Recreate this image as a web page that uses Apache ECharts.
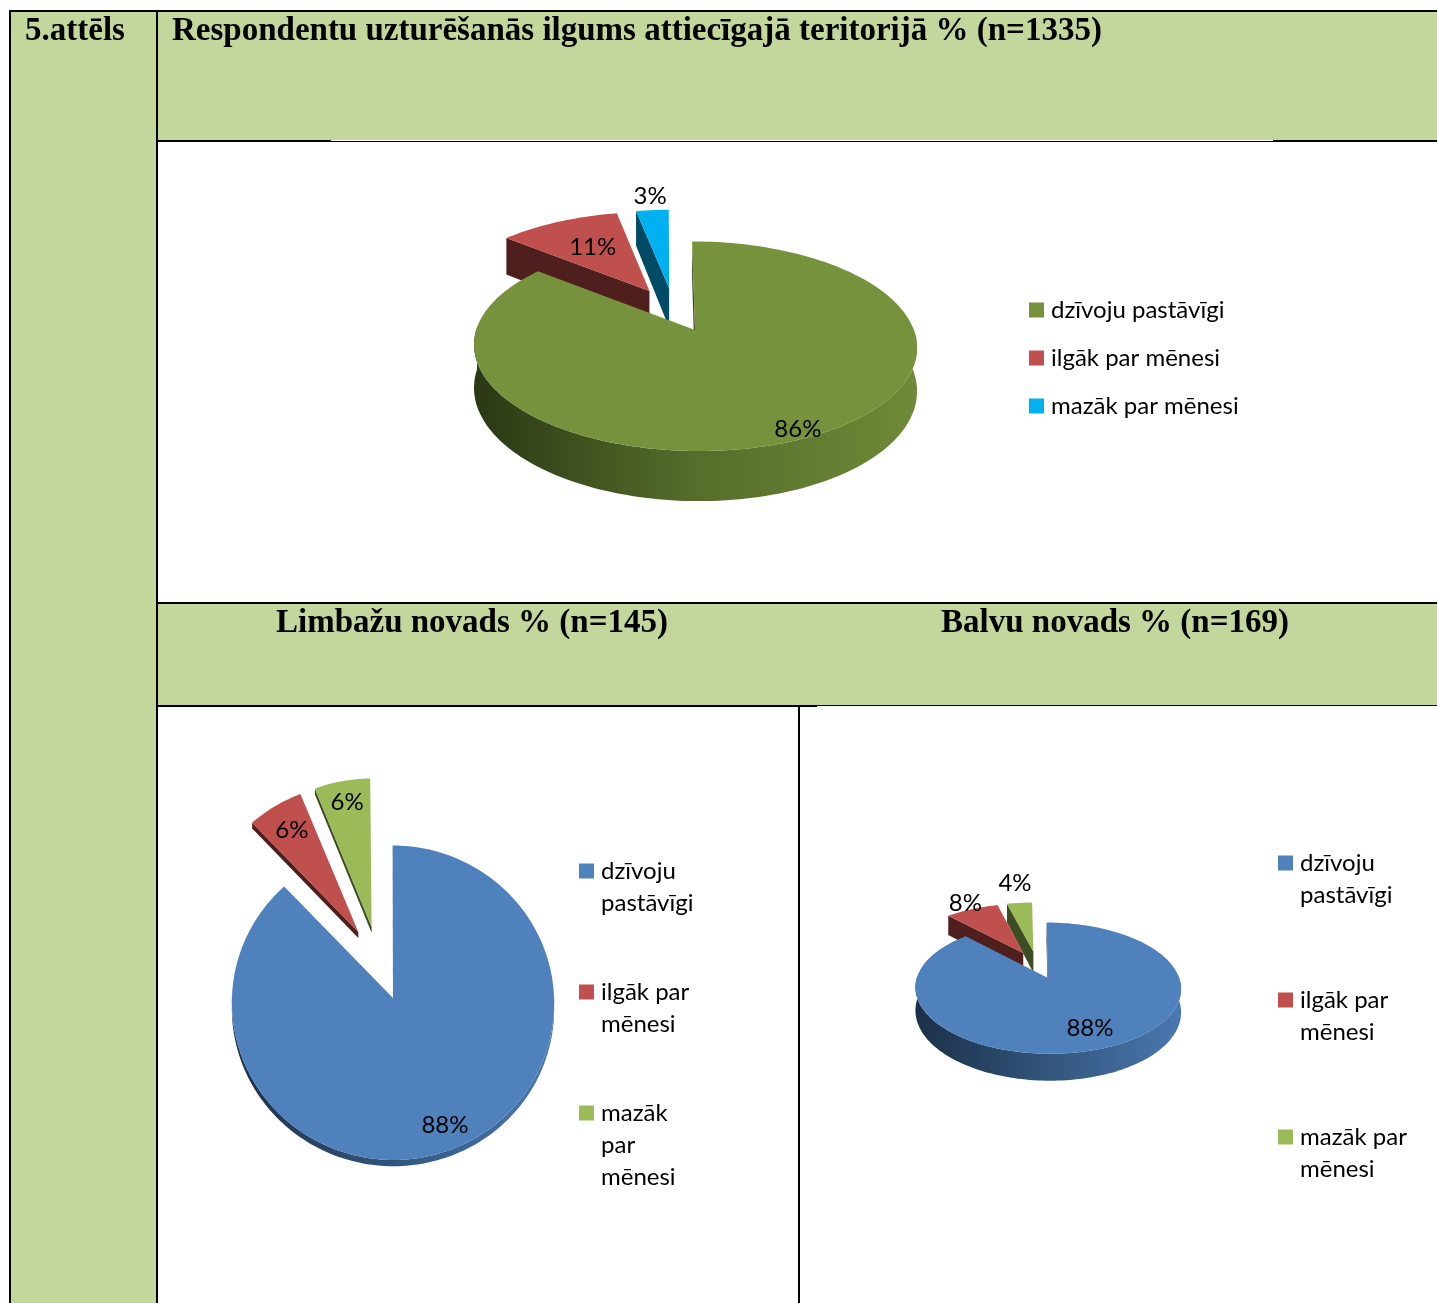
<!DOCTYPE html>
<html>
<head>
<meta charset="utf-8">
<style>html,body{margin:0;padding:0;background:#fff}#c{width:1437px;height:1303px}</style>
<script src="https://cdn.jsdelivr.net/npm/echarts@6/dist/echarts.min.js"></script>
</head>
<body>
<div id="c"></div>
<script>
// ---- data ----
const headingFigure = '5.attēls';
const titleTop = 'Respondentu uzturēšanās ilgums attiecīgajā teritorijā % (n=1335)';
const titleLimbazi = 'Limbažu novads % (n=145)';
const titleBalvi = 'Balvu novads % (n=169)';

const categoriesTop = ['dzīvoju pastāvīgi', 'ilgāk par mēnesi', 'mazāk par mēnesi'];
const categoriesLimbazi = ['dzīvoju\npastāvīgi', 'ilgāk par\nmēnesi', 'mazāk\npar\nmēnesi'];
const categoriesBalvi = ['dzīvoju\npastāvīgi', 'ilgāk par\nmēnesi', 'mazāk par\nmēnesi'];

const valuesTop = [86, 11, 3];
const valuesLimbazi = [88, 6, 6];
const valuesBalvi = [88, 8, 4];

// ---- look ----
const colorsTop = ['#76923c', '#c0504d', '#00b0f0'];
const colorsOther = ['#4f81bd', '#c0504d', '#9bbb59'];
const wallsTop = ['#33421a', '#4f1f1d', '#004a66'];
const wallsOther = ['#1b3048', '#4f1f1d', '#3f4d24'];
const rimTop = ['#6f8a38', '#566d2b', '#2b3814'];
const rimOther = ['#4a78b0', '#33557c', '#1b3048'];

const pies = [
  { names: categoriesTop, values: valuesTop, colors: colorsTop, walls: wallsTop, rim: rimTop,
    apexX: 695, apexY: 330, A: 212, B: 96, k: 0.15, depth: 41, explode: 0.23, labelR: [0.93, 0.6, 1.2] },
  { names: categoriesLimbazi, values: valuesLimbazi, colors: colorsOther, walls: wallsOther, rim: rimOther,
    apexX: 393, apexY: 998, A: 160, B: 155, k: 0.03, depth: 6, explode: 0.24, labelR: [0.85, 0.8, 0.85] },
  { names: categoriesBalvi, values: valuesBalvi, colors: colorsOther, walls: wallsOther, rim: rimOther,
    apexX: 1048, apexY: 978, A: 127, B: 60, k: 0.15, depth: 22, explode: 0.23, labelR: [0.75, 1.15, 1.5] }
];

const FONT_SANS = 'Lato';
const FONT_SERIF = 'Liberation Serif';
const RAD = Math.PI / 180;

function project(p, u, v) {
  const w = 1 + p.k * v;
  return [p.ox + p.A * u / w, p.oy - p.B * v / w, p.depth / w];
}

pies.forEach(p => {
  const bis = p.values[0] * 3.6 / 2 * RAD;
  const u = p.explode * Math.sin(bis), v = p.explode * Math.cos(bis);
  const w = 1 + p.k * v;
  p.ox = p.apexX - p.A * u / w;
  p.oy = p.apexY + p.B * v / w;
});

function sliceRender(p, idx) {
  return function (params, api) {
    const value = api.value(0), startPct = api.value(1);
    const a0 = startPct * 3.6, a1 = (startPct + value) * 3.6;
    const bis = (a0 + a1) / 2 * RAD;
    const du = p.explode * Math.sin(bis), dv = p.explode * Math.cos(bis);
    const P = (r, deg) => project(p, du + r * Math.sin(deg * RAD), dv + r * Math.cos(deg * RAD));
    const top = [], rim = [];
    const apex = P(0, 0);
    top.push(apex.slice(0, 2));
    for (let a = a0; a <= a1 + 0.001; a += Math.min(1.5, a1 - a0 || 1.5)) {
      const q = P(1, Math.min(a, a1));
      top.push([q[0], q[1]]);
      if (a > 88 && a < 272) rim.push(q);
    }
    const children = [];
    const wallFor = deg => {
      const e = P(1, deg);
      return [[apex[0], apex[1]], [e[0], e[1]], [e[0], e[1] + e[2]], [apex[0], apex[1] + apex[2]]];
    };
    // side faces that look towards the viewer
    const visibleStart = Math.cos(a0 * RAD - Math.PI / 2) < 0.35;
    children.push({ type: 'polygon', shape: { points: wallFor(a0) }, style: { fill: p.walls[idx] } });
    if (a1 < 360 && Math.sin(a1 * RAD) > 0) {
      children.push({ type: 'polygon', shape: { points: wallFor(a1) }, style: { fill: p.walls[idx] } });
    }
    if (rim.length > 1) {
      const pts = rim.map(q => [q[0], q[1]]).concat(rim.slice().reverse().map(q => [q[0], q[1] + q[2]]));
      children.push({
        type: 'polygon', shape: { points: pts },
        style: { fill: new echarts.graphic.LinearGradient(0, 0, 1, 0, [
          { offset: 0, color: p.rim[2] }, { offset: 0.5, color: p.rim[1] }, { offset: 1, color: p.rim[0] }
        ]) }
      });
    }
    children.push({ type: 'polygon', shape: { points: top }, style: { fill: p.colors[idx] } });
    const L = P(p.labelR[idx], (a0 + a1) / 2);
    children.push({
      type: 'text', z2: 10,
      style: { text: value + '%', x: L[0], y: L[1], align: 'center', verticalAlign: 'middle',
               fontFamily: FONT_SANS, fontSize: 24, fill: '#000' }
    });
    return { type: 'group', children };
  };
}

const series = [];
pies.forEach((p, pi) => {
  let start = 0;
  const items = p.values.map((value, i) => { const s = start; start += value; return { i, value, s }; });
  // small slices first: the main slice lies over their walls
  items.slice().reverse().forEach(it => {
    series.push({
      type: 'custom', coordinateSystem: 'none', name: p.names[it.i],
      silent: true, animation: false, clip: false,
      itemStyle: { color: p.colors[it.i] },
      z: 2 + pi,
      dimensions: ['value', 'start'],
      data: [[it.value, it.s]],
      renderItem: sliceRender(p, it.i)
    });
  });
});

const LH = 32, SW = 15;
function keyIcon(lines) {
  const h = lines * LH, y = (LH - SW) / 2;
  return `path://M0 ${y}H${SW}V${y + SW}H0ZM0 0h.01v.01zM0 ${h}h.01v-.01z`;
}
function keyLegend(name, color, left, firstLineY) {
  const lines = name.split('\n').length;
  return {
    data: [{ name, icon: keyIcon(lines), itemStyle: { color } }],
    left, top: firstLineY - LH / 2, orient: 'vertical', padding: 0,
    itemWidth: SW, itemHeight: lines * LH, symbolKeepAspect: false, selectedMode: false,
    textStyle: { fontFamily: FONT_SANS, fontSize: 24, lineHeight: LH, color: '#000', padding: [0, 0, 0, 2] }
  };
}
const legends = [];
categoriesTop.forEach((n, i) => legends.push(keyLegend(n, colorsTop[i], 1029, 310 + 48 * i)));
categoriesLimbazi.forEach((n, i) => legends.push(keyLegend(n, colorsOther[i], 579, 871 + 121 * i)));
categoriesBalvi.forEach((n, i) => legends.push(keyLegend(n, colorsOther[i], 1278, 863 + 137 * i)));

const GREEN = '#c3d69b';
const rect = (x, y, width, height, fill) => ({ type: 'rect', silent: true, z: -1, shape: { x, y, width, height }, style: { fill } });
const tableCells = [
  rect(11, 12, 146, 1291, GREEN),
  rect(158, 12, 1279, 128, GREEN),
  rect(158, 604, 1279, 101, GREEN),
  rect(9, 10, 1428, 2, '#000'),
  rect(9, 10, 2, 1293, '#000'),
  rect(156, 10, 2, 1293, '#000'),
  rect(156, 140, 175, 2, '#000'),
  rect(331, 141, 943, 1, '#000'),
  rect(1273, 140, 164, 2, '#000'),
  rect(156, 602, 1281, 2, '#000'),
  rect(156, 705, 661, 2, '#000'),
  rect(817, 705, 620, 1, '#000'),
  rect(798, 706, 2, 597, '#000')
];

const heading = (text, left, top) => ({
  text, left, top, padding: 0, itemGap: 0,
  textStyle: { fontFamily: FONT_SERIF, fontWeight: 'bold', fontSize: 33, color: '#000' }
});

const chart = echarts.init(document.getElementById('c'), null, { renderer: 'canvas' });
chart.setOption({
  animation: false,
  backgroundColor: '#fff',
  title: [
    heading(headingFigure, 25, 15),
    heading(titleTop, 172, 15),
    heading(titleLimbazi, 276, 607),
    heading(titleBalvi, 941, 607)
  ],
  legend: legends,
  graphic: { elements: tableCells },
  series
});
</script>
</body>
</html>
